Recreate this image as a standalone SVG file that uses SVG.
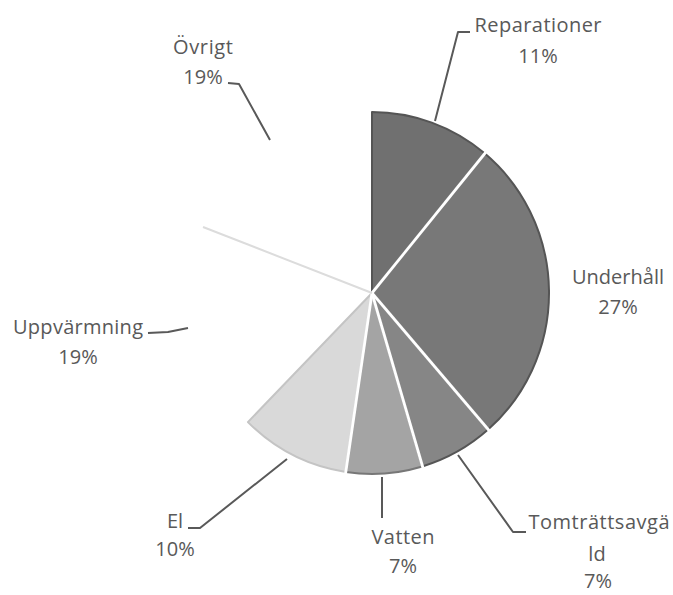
<svg xmlns="http://www.w3.org/2000/svg" width="673" height="595" viewBox="0 0 673 595">
<style>
text{font-family:"Open Sans","Liberation Sans",sans-serif;font-size:20px;fill:#595959;text-anchor:middle}
.s{stroke:#555;stroke-width:2;stroke-linejoin:round}
.sep{stroke:#fff;stroke-width:2.8;fill:none}
.ld{stroke:#595959;stroke-width:2;fill:none;stroke-linejoin:round}
</style>
<rect width="673" height="595" fill="#fff"/>
<g id="reparationer">
<path class="s" d="M372,293 L372,112 A177,181 0 0 1 484.6,153.3 Z" fill="#707070"/>
<text x="538" y="32" textLength="127">Reparationer</text>
<text x="538" y="63">11%</text>
</g>
<g id="underhall">
<path class="s" d="M372,293 L484.6,153.3 A177,181 0 0 1 488.1,429.6 Z" fill="#787878"/>
<text x="618" y="284" textLength="92">Underhåll</text>
<text x="618" y="314">27%</text>
</g>
<g id="tomtrattsavgald">
<path class="s" d="M372,293 L488.1,429.6 A177,181 0 0 1 422.3,466.5 Z" fill="#868686"/>
<text x="599" y="529" textLength="141">Tomträttsavgä</text>
<text x="597" y="561">ld</text>
<text x="598" y="588" font-size="19">7%</text>
</g>
<g id="vatten">
<path class="s" d="M372,293 L422.3,466.5 A177,181 0 0 1 345.8,472 Z" fill="#a4a4a4" style="stroke:#777"/>
<text x="403" y="544" textLength="63">Vatten</text>
<text x="403" y="573">7%</text>
</g>
<g id="el">
<path class="s" d="M372,293 L345.8,472 A177,181 0 0 1 247.9,422.1 Z" fill="#d9d9d9" style="stroke:#c4c4c4"/>
<text x="175" y="528">El</text>
<text x="175" y="556">10%</text>
</g>
<g id="uppvarmning">
<text x="78" y="334" textLength="130">Uppvärmning</text>
<text x="78" y="364">19%</text>
</g>
<g id="ovrigt">
<text x="203" y="54" textLength="60">Övrigt</text>
<text x="203" y="84">19%</text>
</g>
<g id="separators">
<line class="sep" x1="372" y1="293" x2="486" y2="152"/>
<line class="sep" x1="372" y1="293" x2="489.5" y2="431"/>
<line class="sep" x1="372" y1="293" x2="423" y2="468"/>
<line class="sep" x1="372" y1="293" x2="345.5" y2="474"/>
<line x1="372" y1="293" x2="203" y2="227" stroke="#dcdcdc" stroke-width="2"/>
</g>
<g id="connectors">
<path class="ld" d="M470,32 L458,32 L435,121"/>
<path class="ld" d="M228,83 L239,84 L270,140"/>
<path class="ld" d="M148,333 L168,332 L188,328"/>
<path class="ld" d="M188,528 L200,528 L287,459"/>
<path class="ld" d="M382,477 L382,518"/>
<path class="ld" d="M458,455 L513,532 L526,532"/>
</g>
</svg>
